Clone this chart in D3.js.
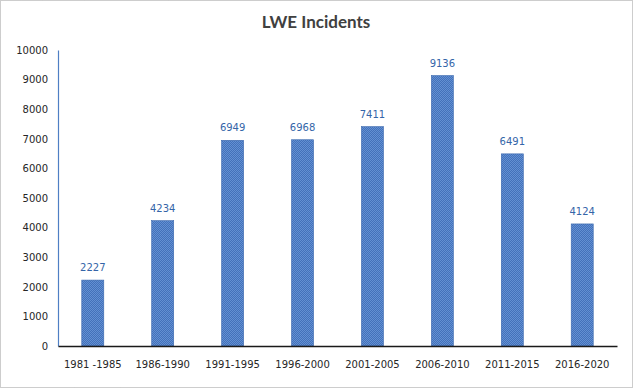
<!DOCTYPE html>
<html>
<head>
<meta charset="utf-8">
<script src="https://cdn.jsdelivr.net/npm/d3@7"></script>
<style>
  body { margin: 0; background: #fff; }
  svg { display: block; }
</style>
</head>
<body>
<div id="chart"></div>
<script>
// chart data
const periods = ['1981 -1985', '1986-1990', '1991-1995', '1996-2000', '2001-2005', '2006-2010', '2011-2015', '2016-2020'];
const incidents = [2227, 4234, 6949, 6968, 7411, 9136, 6491, 4124];
const yTicks = [0, 1000, 2000, 3000, 4000, 5000, 6000, 7000, 8000, 9000, 10000];

const width = 633, height = 388;
const margin = { top: 50, right: 16, bottom: 42, left: 58 };

const svg = d3.select('#chart')
    .append('svg')
    .attr('width', width)
    .attr('height', height);

// dithered blue fill like the original
const defs = svg.append('defs');
const pat = defs.append('pattern')
    .attr('id', 'dots')
    .attr('width', 2)
    .attr('height', 2)
    .attr('patternUnits', 'userSpaceOnUse');
pat.append('rect').attr('width', 2).attr('height', 2).attr('fill', '#4371ba');
pat.append('rect').attr('width', 1).attr('height', 1).attr('fill', '#6390d2');
pat.append('rect').attr('x', 1).attr('y', 1).attr('width', 1).attr('height', 1).attr('fill', '#6390d2');

// outer dotted frame
svg.append('rect')
    .attr('x', 0.5).attr('y', 0.5)
    .attr('width', width - 1).attr('height', height - 1)
    .attr('fill', 'none')
    .attr('stroke', '#9a9a9a')
    .attr('stroke-dasharray', '1,1');

const x = d3.scaleBand()
    .domain(periods)
    .range([margin.left, width - margin.right])
    .paddingInner(0.685)
    .paddingOuter(0.34);

const y = d3.scaleLinear()
    .domain([0, 10000])
    .range([height - margin.bottom, margin.top]);

// title
svg.append('text')
    .attr('x', 316)
    .attr('y', 28)
    .attr('text-anchor', 'middle')
    .style('font-family', 'Lato, "Open Sans", sans-serif')
    .style('font-size', '17px')
    .style('font-weight', 'bold')
    .style('fill', '#404040')
    .text('LWE Incidents');

// y axis
const yAxis = svg.append('g')
    .attr('transform', `translate(${margin.left},0)`)
    .call(d3.axisLeft(y).tickValues(yTicks).tickSize(0).tickPadding(10).tickFormat(d3.format('d')));
yAxis.select('.domain').attr('stroke', '#4f7fc4').attr('stroke-width', 1.2);
yAxis.selectAll('text')
    .style('font-family', '"DejaVu Sans", sans-serif')
    .style('font-size', '10px')
    .style('fill', '#262626');

// bars
svg.append('g')
    .selectAll('rect')
    .data(incidents)
    .enter()
    .append('rect')
    .attr('x', (d, i) => x(periods[i]))
    .attr('y', d => y(d))
    .attr('width', x.bandwidth())
    .attr('height', d => y(0) - y(d))
    .attr('fill', 'url(#dots)')
    .attr('stroke', '#3a68ad')
    .attr('stroke-width', 0.6);

// value labels
svg.append('g')
    .selectAll('text')
    .data(incidents)
    .enter()
    .append('text')
    .attr('x', (d, i) => x(periods[i]) + x.bandwidth() / 2)
    .attr('y', d => y(d) - 9)
    .attr('text-anchor', 'middle')
    .style('font-family', '"DejaVu Sans", sans-serif')
    .style('font-size', '10px')
    .style('fill', '#3465a8')
    .text(d => d);

// x axis
const xAxis = svg.append('g')
    .attr('transform', `translate(0,${y(0)})`)
    .call(d3.axisBottom(x).tickSize(0).tickPadding(15));
xAxis.select('.domain').attr('stroke', '#1a1a1a').attr('stroke-width', 1.5);
xAxis.selectAll('text')
    .style('font-family', '"DejaVu Sans", sans-serif')
    .style('font-size', '10px')
    .style('fill', '#262626');
</script>
</body>
</html>
